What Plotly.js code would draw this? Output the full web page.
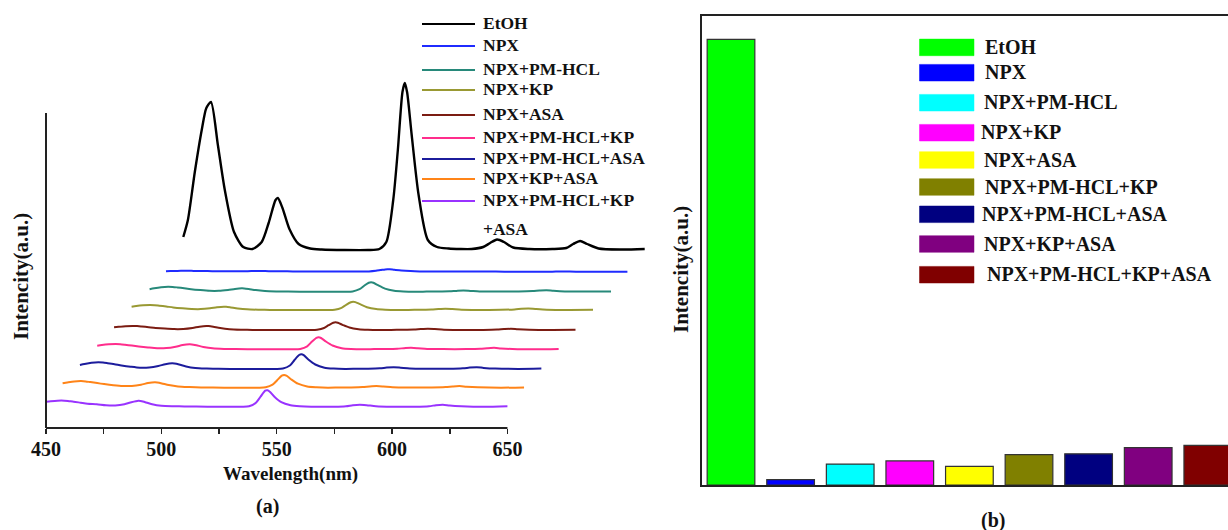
<!DOCTYPE html>
<html>
<head>
<meta charset="utf-8">
<script src="https://cdn.plot.ly/plotly-3.0.1.min.js"></script>
<style>html,body{margin:0;padding:0;background:#fff;}#chart{width:1228px;height:530px;}</style>
</head>
<body>
<div id="chart"></div>
<script>
// ---------- DATA ----------
const sampleNames = ['EtOH','NPX','NPX+PM-HCL','NPX+KP','NPX+ASA','NPX+PM-HCL+KP','NPX+PM-HCL+ASA','NPX+KP+ASA','NPX+PM-HCL+KP+ASA'];

// (a) emission spectra, wavelength in nm (each curve's own axis before waterfall shift)
const wavelength = [450,452,455,458,460,462,465,468,472,476,480,484,487,490,491,493,496,500,505,510,520,530,535,538,541,543,545,546,547,549,552,556,560,565,570,575,580,583,586,589,593,600,610,616,619,622,625,630,640,650];

const specEtOH = [13,30,78,120,142,148,105,60,18,3,1,8,27,50,52,42,21,6,1.5,0.5,0,0,1,8,50,100,158,167,158,115,55,10,3,1.5,1,1,3,7,10.5,8,2.5,1,1,2,6,9,6,1.5,0.5,1];
const specNPX = [0.5,0.6,0.8,0.9,0.9,0.8,0.7,0.6,0.5,0.4,0.4,0.5,0.6,0.7,0.7,0.6,0.5,0.4,0.3,0.3,0.2,0.2,0.2,0.3,0.9,1.6,2.3,2.5,2.4,1.9,1.2,0.6,0.3,0.2,0.1,0.1,0.1,0.2,0.3,0.2,0.1,0,0,0,0.1,0.2,0.1,0,0,0];
const specNPX_PM = [2.4,3.4,4.5,5,4.8,4.3,3.4,2.5,1.6,0.9,0.9,1.8,2.8,3.4,3.3,2.7,1.6,0.7,0.3,0.1,0,0,0,0.3,2.5,6,9,9.4,9,6.5,3.1,1,0.3,0,0.1,0.2,0.4,0.8,1.1,0.8,0.3,0.1,0.2,0.6,1.1,1.4,0.9,0.3,0.1,0.2];
const specNPX_KP = [3.3,4,4.7,5,4.8,4.3,3.5,2.6,1.7,1,0.9,1.7,2.7,3.3,3.2,2.6,1.6,0.7,0.3,0.1,0,0,0,0.3,2.2,5.2,7.8,8.3,7.9,5.8,2.8,0.9,0.3,0,0.1,0.2,0.4,0.9,1.2,0.9,0.3,0.1,0.2,0.6,1.2,1.5,1,0.3,0.1,0.3];
const specNPX_ASA = [2.7,3.2,3.8,4,3.9,3.5,2.8,2.1,1.4,0.9,1,2,3.3,4,3.9,3.2,1.9,0.8,0.3,0.1,0,0,0,0.3,2,4.8,7.3,7.7,7.2,5.2,2.5,0.8,0.2,0,0.1,0.2,0.4,0.9,1.2,0.9,0.3,0.1,0.1,0.4,0.9,1.2,0.7,0.2,0,0.2];
const specNPX_PM_KP = [3.6,4.3,5,5.3,5.1,4.6,3.7,2.8,1.8,1,1.2,2.6,4.2,5,4.9,4,2.4,1,0.4,0.2,0,0,0,0.4,3,7.5,11.4,12,11.3,8,3.8,1.1,0.3,0,0.2,0.3,0.6,1.1,1.5,1.1,0.4,0.2,0.2,0.5,1.1,1.5,0.9,0.3,0,0.3];
const specNPX_PM_ASA = [4,5,6.2,6.7,6.4,5.8,4.8,3.6,2.3,1.3,1.5,3,4.8,5.7,5.5,4.5,2.6,1.1,0.5,0.2,0,0,0,0.5,3.5,9,14,14.7,13.8,9.5,4.5,1.3,0.4,0.1,0.2,0.3,0.7,1.4,1.8,1.3,0.5,0.2,0.2,0.7,1.4,1.8,1.1,0.4,0.1,0.4];
const specNPX_KP_ASA = [4.4,5.2,6.3,6.7,6.3,5.6,4.6,3.6,2.5,1.7,1.8,3,4.6,5.4,5.2,4.3,2.6,1.2,0.6,0.3,0,0,0,0.4,3,7.5,12,12.7,12,8.5,4,1.2,0.4,0,0.2,0.3,0.6,1.2,1.6,1.2,0.5,0.2,0.2,0.6,1.2,1.6,1,0.4,0,0.3];
const specNPX_ALL = [5,5.5,6,6,5.5,5,4,3,2.5,1.5,1.3,2.5,4.5,6,5.8,4.5,2.5,1,0.5,0.3,0,0,0,0.5,4,10,16,16.5,15,10,4.5,1.5,0.5,0,0,0,0.5,1.5,2,1.5,0.5,0,0,0.5,1.5,2,1.2,0.5,0,0.5];

// (b) relative fluorescence intensity
const relIntensity = [100, 1.2, 4.7, 5.4, 4.2, 6.8, 7.0, 8.4, 8.9];

// ---------- STYLE / LAYOUT CONSTANTS ----------
const spectra = [specEtOH, specNPX, specNPX_PM, specNPX_KP, specNPX_ASA, specNPX_PM_KP, specNPX_PM_ASA, specNPX_KP_ASA, specNPX_ALL];
const lineColors = ['#000000','#1f2bff','#27897a','#999933','#7b1c12','#ff2d8c','#1c1c9c','#ff8418','#9933ff'];
const barColors = ['#00ff00','#0000ff','#00ffff','#ff00ff','#ffff00','#808000','#000080','#800080','#800000'];
const xShift = [59.5, 52, 44.9, 37.1, 29.5, 22.2, 14.7, 7.2, 0];        // waterfall horizontal offsets
const yOffset = [178, 156.3, 136.3, 118, 98, 78.7, 59, 40.3, 21.3];      // waterfall vertical offsets

const W = 1228, H = 530;
const px = x => x / W;
const py = y => 1 - y / H;
const FONT = 'Liberation Serif, Times New Roman, serif';

// ---------- TRACES ----------
const traces = [];
for (let i = spectra.length - 1; i >= 0; i--) {
  traces.push({
    type: 'scatter', mode: 'lines', name: sampleNames[i],
    x: wavelength.map(w => w + xShift[i]),
    y: spectra[i].map(v => v + yOffset[i]),
    line: {color: lineColors[i], width: i === 0 ? 2.4 : 2, shape: 'spline', smoothing: 0.7},
    xaxis: 'x', yaxis: 'y', showlegend: false, hoverinfo: 'skip'
  });
}
traces.push({
  type: 'bar', x: sampleNames, y: relIntensity,
  marker: {color: barColors, line: {color: '#333', width: 1.2}},
  width: 0.8, xaxis: 'x2', yaxis: 'y2', showlegend: false
});

// ---------- SHAPES & ANNOTATIONS ----------
const shapes = [];
const annotations = [];
const axisBottomA = 428;
// (a) axes lines
shapes.push({type:'line', xref:'paper', yref:'paper', x0:px(46), x1:px(46), y0:py(113), y1:py(axisBottomA), line:{color:'#222', width:2}});
shapes.push({type:'line', xref:'x', yref:'paper', x0:450, x1:650, y0:py(axisBottomA), y1:py(axisBottomA), line:{color:'#222', width:2}});

// (a) legend
const legA_lineY = [24, 46, 70, 90, 115, 138, 159, 179, 201];
legA_lineY.forEach((y, i) => {
  shapes.push({type:'line', xref:'paper', yref:'paper', x0:px(422), x1:px(475), y0:py(y), y1:py(y), line:{color:lineColors[i], width:2.2}});
  let label = sampleNames[i];
  if (i === 8) label = 'NPX+PM-HCL+KP';
  annotations.push({xref:'paper', yref:'paper', x:px(481), y:py(y - 1), text:'<b>' + label + '</b>', showarrow:false, xanchor:'left', yanchor:'middle', font:{family:FONT, size:17.5, color:'#111'}});
});
annotations.push({xref:'paper', yref:'paper', x:px(481), y:py(229), text:'<b>+ASA</b>', showarrow:false, xanchor:'left', yanchor:'middle', font:{family:FONT, size:17.5, color:'#111'}});

// (a) titles
annotations.push({xref:'paper', yref:'paper', x:px(290), y:py(474), text:'<b>Wavelength(nm)</b>', showarrow:false, xanchor:'center', yanchor:'middle', font:{family:FONT, size:19, color:'#111'}});
annotations.push({xref:'paper', yref:'paper', x:px(21), y:py(277), text:'<b>Intencity(a.u.)</b>', textangle:-90, showarrow:false, xanchor:'center', yanchor:'middle', font:{family:FONT, size:21, color:'#111'}});
annotations.push({xref:'paper', yref:'paper', x:px(267), y:py(506), text:'<b>(a)</b>', showarrow:false, xanchor:'center', yanchor:'middle', font:{family:FONT, size:20, color:'#111'}});

// (b) legend
const legB_y = [47.4, 72.7, 102.7, 132.7, 160, 187, 214.3, 244, 274.7];
const legB_tx = [983, 983, 982, 979, 982, 983, 980, 982, 985];
legB_y.forEach((y, i) => {
  shapes.push({type:'rect', xref:'paper', yref:'paper', x0:px(919.5), x1:px(974), y0:py(y - 8.3), y1:py(y + 8.3), fillcolor:barColors[i], line:{color:barColors[i], width:0.5}});
  annotations.push({xref:'paper', yref:'paper', x:px(legB_tx[i]), y:py(y - 0.5), text:'<b>' + sampleNames[i] + '</b>', showarrow:false, xanchor:'left', yanchor:'middle', font:{family:FONT, size:20, color:'#111'}});
});
// (b) titles
annotations.push({xref:'paper', yref:'paper', x:px(681), y:py(270), text:'<b>Intencity(a.u.)</b>', textangle:-90, showarrow:false, xanchor:'center', yanchor:'middle', font:{family:FONT, size:21, color:'#111'}});
annotations.push({xref:'paper', yref:'paper', x:px(993), y:py(520), text:'<b>(b)</b>', showarrow:false, xanchor:'center', yanchor:'middle', font:{family:FONT, size:20, color:'#111'}});

// ---------- LAYOUT ----------
const tickVals = [450,475,500,525,550,575,600,625,650];
const tickText = tickVals.map(v => v % 50 === 0 ? String(v) : '');

const layout = {
  width: W, height: H, autosize: false,
  margin: {l:0, r:0, t:0, b:0, pad:0},
  paper_bgcolor: '#fff', plot_bgcolor: 'rgba(0,0,0,0)',
  showlegend: false,
  font: {family: FONT, color:'#111'},
  xaxis: {
    domain: [px(46), px(657.4)], range: [450, 715], anchor: 'y',
    showline: false, showgrid: false, zeroline: false,
    tickmode: 'array', tickvals: tickVals, ticktext: tickText,
    ticks: 'outside', ticklen: 5, tickwidth: 1.5, tickcolor: '#222',
    ticklabelstandoff: -2,
    tickfont: {family: FONT, size: 20, color: '#111', weight: 'bold'}
  },
  yaxis: {
    domain: [py(axisBottomA), py(68)], range: [0, 360], anchor: 'x',
    showline: false, showgrid: false, zeroline: false, showticklabels: false, ticks: ''
  },
  xaxis2: {
    domain: [px(701.7), 1], range: [-0.4916, 8.339], anchor: 'y2', type: 'category',
    showline: true, mirror: true, linecolor: '#222', linewidth: 2.2,
    showgrid: false, zeroline: false, showticklabels: false, ticks: ''
  },
  yaxis2: {
    domain: [py(485), py(15.7)], range: [0, 105.3], anchor: 'x2',
    showline: true, mirror: false, linecolor: '#222', linewidth: 2.2,
    showgrid: false, zeroline: false, showticklabels: false, ticks: ''
  },
  shapes: shapes,
  annotations: annotations
};

Plotly.newPlot('chart', traces, layout, {displayModeBar: false, staticPlot: true});
</script>
</body>
</html>
